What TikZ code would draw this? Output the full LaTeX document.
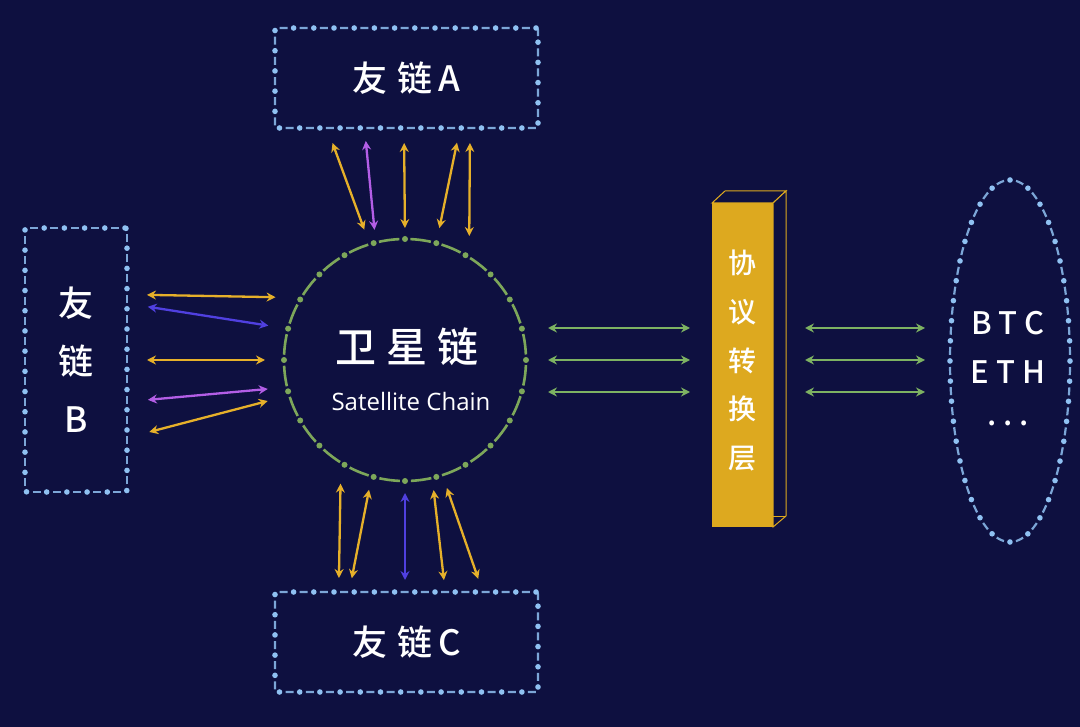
\documentclass[tikz,border=0pt]{standalone}
\usepackage{fontspec}
\usepackage{tikz}
\usetikzlibrary{arrows.meta,shapes.geometric}
\setmainfont{Noto Sans CJK SC}[UprightFont=* Medium]
\newfontfamily\satfont{Open Sans}
\definecolor{bgnavy}{HTML}{0E1040}
\definecolor{dotblue}{HTML}{8FC1F2}
\definecolor{ringgreen}{HTML}{7DA75A}
\definecolor{linkgold}{HTML}{E6B02A}
\definecolor{linkpurple}{HTML}{B35EE6}
\definecolor{linkblue}{HTML}{5040E0}
\definecolor{linkgreen}{HTML}{7DB262}
\definecolor{layergold}{HTML}{DDA91F}

\begin{document}
\begin{tikzpicture}[x=1pt,y=-1pt]
\tikzstyle{chainbox} = [rectangle, rounded corners=2pt, inner sep=0pt, outer sep=0pt, text=white,
  font=\fontsize{35pt}{58pt}\selectfont, align=center,
  draw=dotblue!85!bgnavy, line width=2.2pt, dash pattern=on 8pt off 12.2pt, dash phase=14.1pt,
  postaction={draw=dotblue, line width=5.6pt, line cap=round, dash pattern=on 0pt off 20.2pt, dash phase=0pt}]
\tikzstyle{ring} = [circle, minimum size=242pt, inner sep=0pt, outer sep=0pt,
  draw=ringgreen, line width=2.6pt, dash pattern=on 20.7pt off 11pt, dash phase=26.2pt,
  postaction={draw=ringgreen, line width=6pt, line cap=round, dash pattern=on 0pt off 31.68pt, dash phase=0pt}]
\tikzstyle{coinring} = [ellipse, minimum width=120pt, minimum height=362pt, inner sep=0pt, outer sep=0pt,
  draw=dotblue!85!bgnavy, line width=2.2pt, dash pattern=on 8pt off 12.14pt, dash phase=14.1pt,
  postaction={draw=dotblue, line width=5.6pt, line cap=round, dash pattern=on 0pt off 20.14pt, dash phase=0pt}]
\tikzstyle{label} = [text=white, inner sep=0pt]
\tikzstyle{link} = [<->, >={Stealth[length=9pt,width=9pt,inset=3pt]}, line width=2.3pt]

\fill[bgnavy] (0,0) rectangle (1080,727);

\node[chainbox, minimum width=263pt, minimum height=100pt] (A) at (406.5,78) {友\hspace{10pt}链\hspace{6pt}A};
\node[chainbox, minimum width=263pt, minimum height=100pt] (C) at (406.5,642) {友\hspace{10pt}链\hspace{6pt}C};
\node[chainbox, minimum width=102pt, minimum height=264pt] (B) at (76,360) {友\\链\\B};

\node[ring] (sat) at (405,360) {};
\node[label, font=\fontsize{41pt}{41pt}\selectfont] (satzh) at (407,347) {卫\hspace{10pt}星\hspace{10pt}链};
\node[label, font=\satfont\fontsize{24pt}{24pt}\selectfont] (saten) at (411,402) {Satellite Chain};

\node[fill=layergold, minimum width=61pt, minimum height=324pt, inner sep=0pt, outer sep=0pt] (layer) at (742.5,365) {};
\draw[layergold, line width=1pt, fill=bgnavy] (layer.north west) -- ++(13,-12) -- ++(61,0) -- (layer.north east) -- cycle;
\draw[layergold, line width=1pt, fill=bgnavy] (layer.north east) -- ++(13,-12) -- ++(0,325) -- (layer.south east) -- cycle;
\draw[layergold, line width=1pt] (layer.south east) ++(0,-11) -- ++(13,0);
\node[label, align=center, font=\fontsize{28pt}{48.7pt}\selectfont] (layertext) at (742,360.5) {协\\议\\转\\换\\层};

\node[coinring] (coins) at (1010,361) {};
\node[label, font=\fontsize{31pt}{31pt}\selectfont] (btc) at (1008,323) {B\kern7pt T\kern7pt C};
\node[label, font=\fontsize{31pt}{31pt}\selectfont] (eth) at (1008,372) {E\kern7pt T\kern7pt H};
\node[label, font=\fontsize{31pt}{31pt}\selectfont] (more) at (1008,423) {.\kern7pt.\kern7pt.};

\foreach \dx/\ang/\col/\sa/\sb in {-79.5/107.7/linkgold/16pt/15.6pt, -42/104.3/linkpurple/13pt/12.8pt,
    -2.5/90/linkgold/15pt/11pt, 53.5/75.3/linkgold/15pt/15.3pt, 63.5/58.9/linkgold/15pt/21.4pt}
  \draw[link, \col, shorten <=\sa, shorten >=\sb] ([xshift=\dx pt]A.south) -- (sat.\ang);

\foreach \dx/\ang/\col/\sa/\sb in {-67.8/238.3/linkgold/14pt/21pt, -57.4/254.5/linkgold/14pt/13.7pt,
    -1.5/270/linkblue/12pt/12pt, 38.8/283.2/linkgold/12pt/12.3pt, 76.3/288.1/linkgold/14pt/13.7pt}
  \draw[link, \col, shorten <=\sa, shorten >=\sb] ([xshift=\dx pt]C.north) -- (sat.\ang);

\foreach \dy/\ang/\col/\sa/\sb in {65.5/149.5/linkgold/20pt/25.7pt, 56.5/165.8/linkblue/21pt/20pt,
    0/180/linkgold/20pt/19pt, -41.75/193.6/linkpurple/21pt/19.4pt, -77.8/197.6/linkgold/23pt/22.3pt}
  \draw[link, \col, shorten <=\sa, shorten >=\sb] ([yshift=\dy pt]B.east) -- (sat.\ang);

\foreach \dy/\n in {32pt/a, 0pt/b, -32pt/c} {
  \coordinate (lv\n) at ([yshift=\dy]sat.east);
  \draw[link, linkgreen, shorten <=22pt, shorten >=22pt] (lv\n) -- (lv\n -| layer.west);
  \draw[link, linkgreen, shorten <=32pt, shorten >=25pt] (lv\n -| layer.east) -- (lv\n -| coins.west);
}
\end{tikzpicture}
\end{document}
